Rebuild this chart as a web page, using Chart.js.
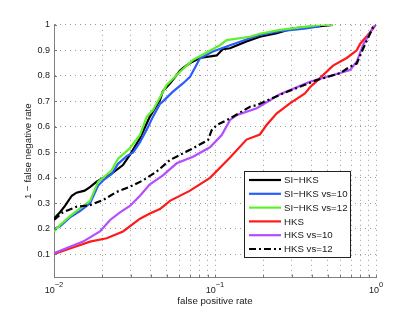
<!DOCTYPE html>
<html>
<head>
<meta charset="utf-8">
<script src="https://cdn.jsdelivr.net/npm/chart.js@4.4.1/dist/chart.umd.min.js"></script>
<style>
  html, body { margin: 0; padding: 0; background: #fff; }
  canvas { display: block; }
</style>
</head>
<body>
<canvas id="rocChart" width="415" height="313"></canvas>
<script>
  // ROC curves: false positive rate (log) vs 1 - false negative rate
  const yTicks = [0.1, 0.2, 0.3, 0.4, 0.5, 0.6, 0.7, 0.8, 0.9, 1];
  const xTicks = [0.01, 0.02, 0.03, 0.04, 0.05, 0.06, 0.07, 0.08, 0.09,
                  0.1, 0.2, 0.3, 0.4, 0.5, 0.6, 0.7, 0.8, 0.9, 1];
  const decadeTicks = [0.01, 0.1, 1];
  const decadeExponents = ["\u22122", "\u22121", "0"];

  const seriesLabels = ["SI\u2212HKS", "SI\u2212HKS vs=10", "SI\u2212HKS vs=12", "HKS", "HKS vs=10", "HKS vs=12"];

  const siHksFpr = [0.0100, 0.0109, 0.0117, 0.0129, 0.0138, 0.0155, 0.0168, 0.0184, 0.0202, 0.0223, 0.0268, 0.0296,
                    0.0342, 0.0377, 0.0394, 0.0455, 0.0475, 0.0525, 0.0606, 0.0632, 0.0700, 0.0807, 0.1025, 0.112,
                    0.124, 0.157, 0.190, 0.242, 0.305, 0.450, 0.540];
  const siHksTpr = [0.240, 0.265, 0.290, 0.330, 0.342, 0.350, 0.365, 0.385, 0.400, 0.412, 0.450, 0.490,
                    0.555, 0.614, 0.640, 0.705, 0.740, 0.770, 0.820, 0.830, 0.850, 0.870, 0.880, 0.905,
                    0.908, 0.935, 0.953, 0.967, 0.986, 0.995, 1.000];

  const siHks10Fpr = [0.0100, 0.0109, 0.01257, 0.0145, 0.01675, 0.0188, 0.0202, 0.0228, 0.0250, 0.0283, 0.0310,
                      0.0342, 0.0377, 0.0412, 0.0455, 0.0475, 0.0548, 0.0632, 0.0700, 0.0807, 0.0972, 0.124,
                      0.165, 0.190, 0.253, 0.360, 0.450];
  const siHks10Tpr = [0.200, 0.210, 0.245, 0.270, 0.300, 0.370, 0.390, 0.415, 0.455, 0.485, 0.500,
                      0.540, 0.590, 0.640, 0.690, 0.700, 0.738, 0.770, 0.796, 0.869, 0.895, 0.920,
                      0.947, 0.960, 0.975, 0.985, 0.995];

  const siHks12Fpr = [0.0100, 0.0109, 0.01257, 0.0145, 0.01675, 0.0188, 0.0202, 0.0228, 0.0250, 0.0283, 0.0296,
                      0.0342, 0.0377, 0.0412, 0.0455, 0.0501, 0.0606, 0.0730, 0.0909, 0.1074, 0.1182, 0.165,
                      0.190, 0.253, 0.360, 0.449, 0.541];
  const siHks12Tpr = [0.190, 0.215, 0.250, 0.280, 0.310, 0.385, 0.400, 0.430, 0.475, 0.505, 0.516,
                      0.568, 0.640, 0.666, 0.715, 0.764, 0.816, 0.862, 0.895, 0.920, 0.940, 0.953,
                      0.965, 0.980, 0.992, 1.000, 1.000];

  const hksFpr = [0.0100, 0.0109, 0.01257, 0.01675, 0.02125, 0.02683, 0.0342, 0.0394, 0.0455, 0.0525, 0.0700,
                  0.0931, 0.124, 0.157, 0.190, 0.209, 0.242, 0.292, 0.362, 0.389, 0.430, 0.541, 0.658,
                  0.759, 0.796, 0.918, 1.0];
  const hksTpr = [0.100, 0.110, 0.123, 0.150, 0.163, 0.190, 0.240, 0.260, 0.278, 0.310, 0.350,
                  0.400, 0.480, 0.550, 0.570, 0.607, 0.653, 0.692, 0.731, 0.755, 0.780, 0.840, 0.870,
                  0.900, 0.925, 0.970, 1.000];

  const hks10Fpr = [0.0100, 0.01257, 0.01514, 0.0193, 0.0223, 0.0257, 0.0296, 0.0342, 0.0394, 0.0475, 0.0578,
                    0.0730, 0.0931, 0.1101, 0.124, 0.1364, 0.1816, 0.253, 0.389, 0.541, 0.690, 0.759,
                    0.830, 0.957, 1.0];
  const hks10Tpr = [0.105, 0.130, 0.150, 0.190, 0.235, 0.265, 0.290, 0.330, 0.375, 0.410, 0.457,
                    0.483, 0.520, 0.568, 0.627, 0.646, 0.673, 0.728, 0.777, 0.803, 0.823, 0.855,
                    0.920, 0.990, 1.000];

  const hks12Fpr = [0.0100, 0.01137, 0.01384, 0.01675, 0.02016, 0.02452, 0.0296, 0.0357, 0.04345, 0.0525, 0.0700,
                    0.0905, 0.0954, 0.1025, 0.124, 0.165, 0.1816, 0.2645, 0.428, 0.5976, 0.690, 0.759,
                    0.830, 0.957, 1.0];
  const hks12Tpr = [0.235, 0.265, 0.287, 0.293, 0.313, 0.345, 0.365, 0.390, 0.425, 0.470, 0.510,
                    0.548, 0.587, 0.607, 0.633, 0.679, 0.685, 0.731, 0.783, 0.810, 0.836, 0.848,
                    0.905, 0.990, 1.000];

  const fontFamily = '"Liberation Sans", Arial, Helvetica, sans-serif';

  function toPoints(xs, ys) {
    return xs.map(function (x, i) { return { x: x, y: ys[i] }; });
  }

  function curve(i, xs, ys, color, dash) {
    return {
      label: seriesLabels[i],
      data: toPoints(xs, ys),
      borderColor: color,
      backgroundColor: color,
      borderWidth: 2.2,
      borderDash: dash || [],
      pointRadius: 0,
      tension: 0,
      fill: false,
      order: 5 - i, // later series drawn on top, like the original
    };
  }

  const datasets = [
    curve(0, siHksFpr, siHksTpr, "#000000"),
    curve(1, siHks10Fpr, siHks10Tpr, "#2b5cff"),
    curve(2, siHks12Fpr, siHks12Tpr, "#5ef02a"),
    curve(3, hksFpr, hksTpr, "#ff1a1a"),
    curve(4, hks10Fpr, hks10Tpr, "#b44cff"),
    curve(5, hks12Fpr, hks12Tpr, "#000000", [7, 3, 2, 3]),
  ];

  // white page, inward tick marks, 10^n labels and the boxed legend
  const rocPlot = {
    id: "rocPlot",
    beforeDraw(chart) {
      const ctx = chart.ctx;
      ctx.save();
      ctx.fillStyle = "#fff";
      ctx.fillRect(0, 0, chart.width, chart.height);
      ctx.restore();
    },
    afterDraw(chart) {
      const { ctx, chartArea } = chart;
      const x = chart.scales.x;
      const y = chart.scales.y;
      ctx.save();

      ctx.strokeStyle = "#777";
      ctx.lineWidth = 1;
      ctx.beginPath();
      xTicks.forEach(function (v) {
        const px = Math.round(x.getPixelForValue(v)) + 0.5;
        ctx.moveTo(px, chartArea.bottom);
        ctx.lineTo(px, chartArea.bottom - 3);
      });
      yTicks.forEach(function (v) {
        const py = Math.round(y.getPixelForValue(v)) + 0.5;
        ctx.moveTo(chartArea.left, py);
        ctx.lineTo(chartArea.left + 3, py);
      });
      ctx.stroke();

      ctx.fillStyle = "#1a1a1a";
      ctx.textAlign = "left";
      ctx.textBaseline = "alphabetic";
      decadeTicks.forEach(function (v, i) {
        ctx.font = "9px " + fontFamily;
        const wb = ctx.measureText("10").width;
        ctx.font = "7.5px " + fontFamily;
        const ws = ctx.measureText(decadeExponents[i]).width;
        const left = x.getPixelForValue(v) - (wb + ws) / 2;
        ctx.font = "9px " + fontFamily;
        ctx.fillText("10", left, chartArea.bottom + 15);
        ctx.font = "7.5px " + fontFamily;
        ctx.fillText(decadeExponents[i], left + wb, chartArea.bottom + 9.5);
      });

      // legend box
      const bx = 244.5, by = 171.5, bw = 106, bh = 86;
      ctx.fillStyle = "#fff";
      ctx.fillRect(bx, by, bw, bh);
      ctx.strokeStyle = "#222";
      ctx.lineWidth = 1;
      ctx.strokeRect(bx, by, bw, bh);
      ctx.font = "9.7px " + fontFamily;
      ctx.textBaseline = "middle";
      chart.data.datasets.forEach(function (ds, i) {
        const cy = 180 + i * 13.8;
        ctx.save();
        ctx.setLineDash(ds.borderDash);
        ctx.strokeStyle = ds.borderColor;
        ctx.lineWidth = ds.borderWidth;
        ctx.beginPath();
        ctx.moveTo(249, cy);
        ctx.lineTo(281, cy);
        ctx.stroke();
        ctx.restore();
        ctx.fillStyle = "#1a1a1a";
        ctx.fillText(ds.label, 284, cy + 0.5);
      });
      ctx.restore();
    },
  };

  const gridStyle = { color: "#9a9a9a", lineWidth: 1, drawTicks: false };
  const borderStyle = { display: true, color: "#808080", width: 1, dash: [1, 4] };

  new Chart(document.getElementById("rocChart"), {
    type: "line",
    data: { datasets: datasets },
    options: {
      responsive: false,
      animation: false,
      parsing: true,
      layout: { padding: { top: 24.8, right: 39, bottom: 0, left: 0 } },
      plugins: { legend: { display: false }, tooltip: { enabled: false } },
      scales: {
        x: {
          type: "logarithmic",
          min: 0.01,
          max: 1,
          grid: gridStyle,
          border: borderStyle,
          ticks: { display: false },
          afterBuildTicks: function (s) { s.ticks = xTicks.map(function (v) { return { value: v }; }); },
          afterFit: function (s) { s.height = 35.4; },
          title: {
            display: true,
            text: "false positive rate",
            color: "#1a1a1a",
            font: { family: fontFamily, size: 9.7 },
            padding: { top: 0, bottom: 5.5 },
          },
        },
        y: {
          type: "linear",
          min: 0.009,
          max: 1,
          grid: gridStyle,
          border: borderStyle,
          ticks: {
            color: "#1a1a1a",
            padding: 4,
            font: { family: fontFamily, size: 9 },
            callback: function (v) { return v === 1 ? "1" : v.toFixed(1); },
          },
          afterBuildTicks: function (s) { s.ticks = yTicks.map(function (v) { return { value: v }; }); },
          afterFit: function (s) { s.width = 54; },
          title: {
            display: true,
            text: "1 \u2212 false negative rate",
            color: "#1a1a1a",
            font: { family: fontFamily, size: 9.7 },
            padding: { top: 22.2, bottom: 0 },
          },
        },
      },
    },
    plugins: [rocPlot],
  });
</script>
</body>
</html>
